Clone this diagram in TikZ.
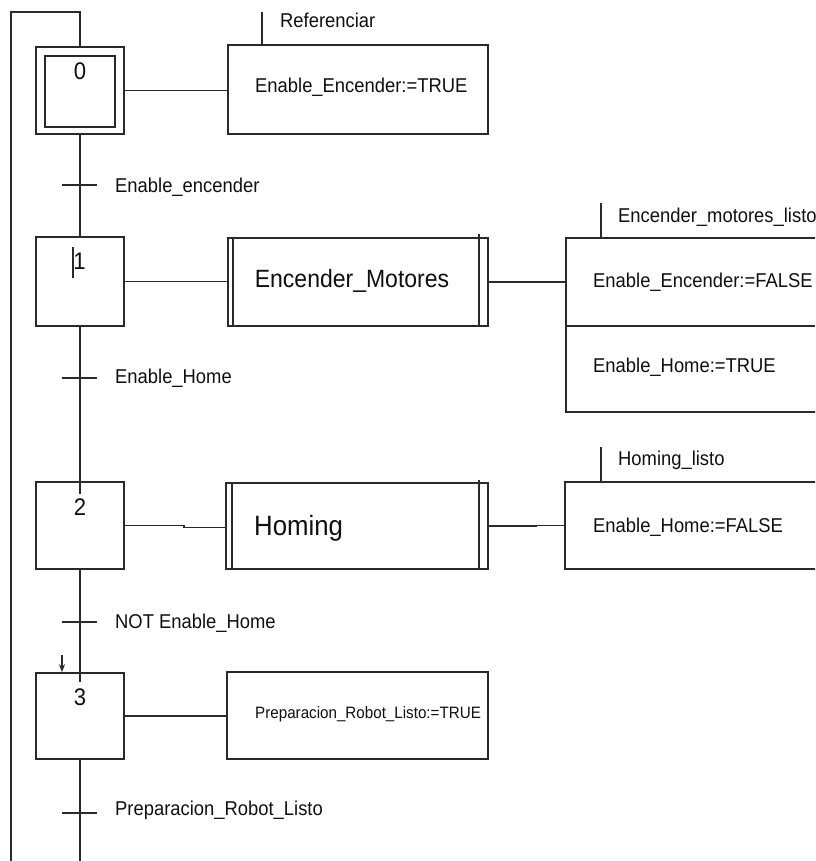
\documentclass[tikz,border=0pt]{standalone}
\usepackage{fontspec}
\setmainfont{Liberation Sans}[FakeStretch=0.92]
\usetikzlibrary{arrows.meta}
\definecolor{ink}{HTML}{2A2A2A}
\definecolor{txt}{HTML}{101010}
\tikzset{
  wire/.style={draw=ink, line width=1.6pt},
  stepbox/.style={wire, rectangle, inner sep=0pt, minimum width=88pt},
  actbox/.style={wire, rectangle, inner sep=0pt},
  lbl/.style={text=txt, inner sep=0pt, anchor=base west, font=\fontsize{20}{22}\selectfont},
  small/.style={lbl, font=\fontsize{16.5}{18}\selectfont},
  macro/.style={text=txt, inner sep=0pt, font=\fontsize{25}{28}\selectfont},
  num/.style={text=txt, inner sep=0pt, anchor=base, font=\fontsize{24}{26}\selectfont},
}
\begin{document}
\begin{tikzpicture}[x=1pt, y=-1pt]
\useasboundingbox (0,0) rectangle (815,861);
\clip (0,0) rectangle (815,861);
\fill[white] (0,0) rectangle (815,861);

% steps
\node[stepbox, minimum height=87pt] (s0) at (80,90.5) {};
\node[wire, rectangle, inner sep=0pt, minimum width=70pt, minimum height=71pt] (s0i) at (80,91.5) {};
\node[stepbox, minimum height=89pt] (s1) at (80,281.5) {};
\node[stepbox, minimum height=87pt] (s2) at (80,525.5) {};
\node[stepbox, minimum height=86pt] (s3) at (80,716) {};

\node[num] (n0) at (80,80) {0};
\node[num] (n1) at (79.5,269) {1};
\node[num] (n2) at (80,515) {2};
\node[num] (n3) at (80,705) {3};
\draw[ink, line width=1.1pt] (73,247) -- (73,278);

% action blocks
\node[actbox, minimum width=260pt, minimum height=89pt] (a0) at (358,89.5) {};
\node[actbox, minimum width=334pt, minimum height=174pt] (a1) at (733,325) {};
\node[actbox, minimum width=335pt, minimum height=87pt] (a2) at (732.5,525.5) {};
\node[actbox, minimum width=261pt, minimum height=87pt] (a3) at (357.5,715.5) {};
\draw[wire] (566,326) -- (815,326);

% macro steps
\node[actbox, minimum width=260pt, minimum height=88pt] (m1) at (358,282) {};
\draw[wire] ([xshift=6pt]m1.north west) -- ([xshift=6pt]m1.south west);
\draw[wire] ([xshift=-10pt,yshift=3pt]m1.north east) -- ([xshift=-10pt]m1.south east);
\node[actbox, minimum width=262pt, minimum height=86pt] (m2) at (357,526) {};
\draw[wire] ([xshift=7pt]m2.north west) -- ([xshift=7pt]m2.south west);
\draw[wire] ([xshift=-10pt,yshift=2pt]m2.north east) -- ([xshift=-10pt]m2.south east);

% texts
\node[lbl] (ta0) at (255,93) {Enable\_Encender:=TRUE};
\node[lbl] (ta1a) at (593,287) {Enable\_Encender:=FALSE};
\node[lbl] (ta1b) at (593,372) {Enable\_Home:=TRUE};
\node[lbl] (ta2) at (593,532) {Enable\_Home:=FALSE};
\node[small] (ta3) at (255,718) {Preparacion\_Robot\_Listo:=TRUE};
\node[macro] (tm1) at (352,281) {Encender\_Motores};
\node[macro, anchor=base west, font=\fontsize{28}{30}\selectfont] (tm2) at (254,535) {Homing};

% qualifier bars
\coordinate (q0) at (262,12);
\coordinate (q1) at (601,203);
\coordinate (q2) at (601,447);
\draw[wire] (q0) -- (q0 |- a0.north);
\draw[wire] (q1) -- (q1 |- a1.north);
\draw[wire] (q2) -- (q2 |- a2.north);
\node[lbl] (tq0) at (280,28) {Referenciar};
\node[lbl] (tq1) at (618,222) {Encender\_motores\_listo};
\node[lbl] (tq2) at (618,465) {Homing\_listo};

% links from steps to actions
\draw[wire] (s0.east) -- (s0.east -| a0.west);
\draw[wire] (s1.east) -- (s1.east -| m1.west);
\draw[wire] (m1.east) -- (m1.east -| a1.west);
\draw[wire] (s2.east) -- ++(59,0) |- ([yshift=-1.5pt]m2.west);
\draw[wire] (m2.east) -- ++(47,0) |- (a2.west);
\draw[wire] (s3.east) -- (s3.east -| a3.west);

% sequence line and return loop
\coordinate (top) at (80,12);
\coordinate (lt) at (11,12);
\coordinate (lb) at (11,880);
\draw[wire] (s0.south) -- (s1.north);
\draw[wire] (s1.south) -- ([yshift=-13pt]s2.north);
\draw[wire] (s2.south) -- ([yshift=-10pt]s3.north);
\draw[wire] (s3.south) |- (lb) -- (lt) -- (top) -- (s0.north);

% transitions
\coordinate (t0) at (80,185);
\coordinate (t1) at (80,378);
\coordinate (t2) at (80,622);
\coordinate (t3) at (80,813);
\foreach \t in {t0,t1,t2,t3}
  \draw[wire] ([xshift=-18pt]\t) -- ([xshift=17pt]\t);
\node[lbl] (tt0) at (115,193) {Enable\_encender};
\node[lbl] (tt1) at (115,383) {Enable\_Home};
\node[lbl] (tt2) at (115,628) {NOT Enable\_Home};
\node[lbl] (tt3) at (115,815) {Preparacion\_Robot\_Listo};

% activation arrow on step 3
\coordinate (ar) at (62,655);
\draw[ink, line width=1.2pt, -{Stealth[length=8pt,width=6pt]}] (ar) -- (ar |- s3.north);
\end{tikzpicture}
\end{document}
